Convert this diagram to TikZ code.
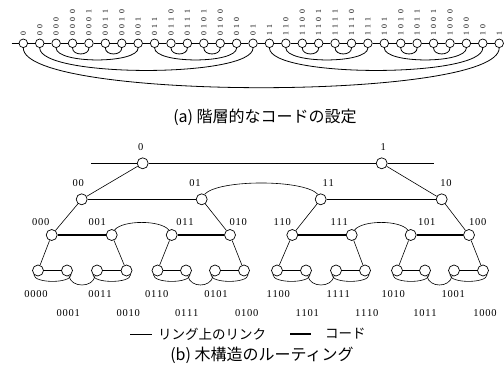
\documentclass[tikz,border=0pt]{standalone}
\usepackage{fontspec}
\setmainfont{Liberation Serif}
\newfontfamily\jpfont{Noto Sans CJK JP}
\makeatletter
\newcommand\spacedig[1]{\spacedig@i#1\@nil}
\def\spacedig@i#1#2\@nil{#1\ifx\relax#2\relax\else\kern\digkern\relax\spacedig@i#2\@nil\fi}
\makeatother
\def\digkern{0.8pt}
\newcommand\sdig[1]{\expandafter\spacedig\expandafter{#1}}
\tikzset{
  anode/.style={circle,draw,line width=0.7pt,minimum size=8.6pt,inner sep=0pt},
  alab/.style={rotate=90,anchor=west,inner sep=0pt,font=\fontsize{7.8}{8}\selectfont},
  aline/.style={line width=0.8pt},
  tnode/.style={circle,draw,line width=0.7pt,minimum size=11pt,inner sep=0pt},
  tlab/.style={inner sep=0pt,font=\fontsize{10.5}{12}\selectfont},
  ring/.style={line width=0.6pt},
  chord/.style={line width=1.5pt},
  captxt/.style={inner sep=0pt,font=\jpfont\fontsize{16}{18}\selectfont},
  legtxt/.style={inner sep=0pt,anchor=west,font=\jpfont\fontsize{13.5}{15}\selectfont},
}
\begin{document}
\begin{tikzpicture}[x=1pt,y=-1pt]
\useasboundingbox (0,0) rectangle (504,369);
% ---------------- (a)
\foreach \i/\lab in {1/0,2/00,3/000,4/0000,5/0001,6/0011,7/0010,8/001,9/011,10/0110,11/0111,12/0101,13/0100,14/010,15/01,16/11,17/110,18/1100,19/1101,20/1111,21/1110,22/111,23/101,24/1010,25/1011,26/1001,27/1000,28/100,29/10,30/1}{
  \node[anode] (a\i) at ({23.3+16.41*(\i-1)},43.3) {};
  \node[alab] (la\i) at ([yshift=2.6pt]a\i.north) {\def\digkern{3.4pt}\sdig{\lab}};
}
\coordinate (aL) at (11.5,43.3);
\draw[aline] (aL) -- (a1);
\foreach \i [evaluate=\i as \j using int(\i+1)] in {1,...,29} \draw[aline] (a\i) -- (a\j);
\foreach \p/\q/\h in {4/5/8,6/7/8,10/11/8,12/13/8,18/19/8,20/21/8,24/25/8,26/27/8,3/8/16,9/14/16,17/22/16,23/28/16,2/15/30,16/29/30,1/30/53}
  \draw[aline] (a\p.south) .. controls +(0,\h) and +(0,\h) .. (a\q.south);
\node[captxt] (capa) at (265,117) {(a) 階層的なコードの設定};
% ---------------- (b)
\foreach \nm/\x/\y in {0/142.7/163.3,1/381.7/163.3,
  00/81.7/199.3,01/201.7/199.3,11/320.7/199.3,10/441.7/199.3,
  000/51.7/235,001/111.7/235,011/171.7/235,010/230/235,110/292.3/235,111/351.7/235,101/410.7/235,100/469/235,
  0000/38/270.5,0001/67/270.5,0011/97/270.5,0010/126.5/270.5,0110/157.5/270.5,0111/186/270.5,0101/215/270.5,0100/244/270.5,
  1100/277/270.5,1101/306/270.5,1111/336/270.5,1110/365/270.5,1010/397/270.5,1011/425/270.5,1001/454/270.5,1000/483/270.5}
  \node[tnode] (t\nm) at (\x,\y) {};
\foreach \nm/\x/\y in {0/140.7/146.7,1/383.3/146.7,
  00/78.3/182.7,01/195/182.7,11/328.3/182.7,10/446/182.7,
  000/40.7/221.7,001/97.3/221.7,011/185/221.7,010/238.3/221.7,110/282.3/221.7,111/339.3/221.7,101/426.7/221.7,100/477.7/221.7,
  0000/36/294,0011/100/294,0110/156.7/294,0101/216/294,1100/278.3/294,1111/338.3/294,1010/393.3/294,1001/453.3/294,
  0001/68.3/313,0010/128.3/313,0111/186.7/313,0100/246.7/313,1101/307.3/313,1110/366.7/313,1011/425/313,1000/485/313}
  \node[tlab] (lt\nm) at (\x,\y) {\sdig{\nm}};
\coordinate (bL) at (91,163.3);
\coordinate (bR) at (434.3,163.3);
\draw[ring] (bL) -- (t0);
\draw[ring] (t1) -- (bR);
\draw[chord] (t0) -- (t1);
\foreach \p/\q in {0/00,1/10,00/000,01/010,11/110,10/100,000/0000,001/0010,011/0110,010/0100,110/1100,111/1110,101/1010,100/1000}
  \draw[ring] (t\p) -- (t\q);
\foreach \p/\q in {00/01,11/10,000/001,011/010,110/111,101/100,0000/0001,0011/0010,0110/0111,0101/0100,1100/1101,1111/1110,1010/1011,1001/1000}
  \draw[chord] (t\p) -- (t\q);
\draw[ring] (t01.60) .. controls +(14,-15) and +(-14,-15) .. (t11.120);
\draw[ring] (t001.60) .. controls +(8,-10) and +(-8,-10) .. (t011.120);
\draw[ring] (t111.60) .. controls +(8,-10) and +(-8,-10) .. (t101.120);
\foreach \la/\lb/\lc/\ld in {0000/0001/0011/0010,0110/0111/0101/0100,1100/1101/1111/1110,1010/1011/1001/1000}{
  \draw[ring] (t\la.225) .. controls +(0,9) and +(0,9) .. (t\lb.315);
  \draw[ring] (t\lb.290) .. controls +(2,12) and +(-2,12) .. (t\lc.250);
  \draw[ring] (t\lc.225) .. controls +(0,9) and +(0,9) .. (t\ld.315);
}
% legend
\coordinate (lg1a) at (130,334);
\coordinate (lg1b) at (152,334);
\draw[ring] (lg1a) -- (lg1b);
\node[legtxt] (lgt1) at (158,334) {リング上のリンク};
\coordinate (lg2a) at (290,334);
\coordinate (lg2b) at (311,334);
\draw[chord] (lg2a) -- (lg2b);
\node[legtxt] (lgt2) at (325,334) {コード};
\node[captxt] (capb) at (262,355) {(b) 木構造のルーティング};
\end{tikzpicture}
\end{document}
